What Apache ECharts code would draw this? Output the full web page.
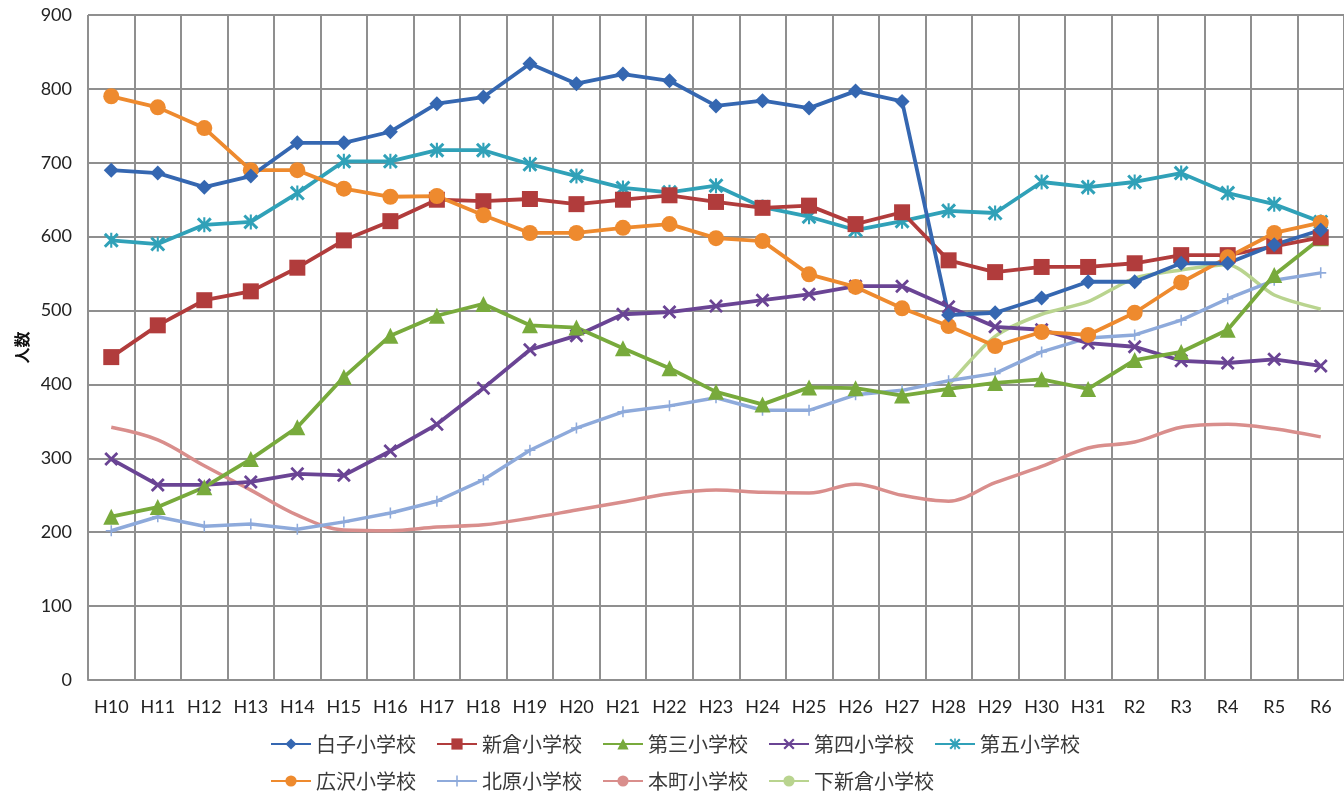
<!DOCTYPE html>
<html><head><meta charset="utf-8">
<script src="https://cdn.jsdelivr.net/npm/echarts@6/dist/echarts.min.js"></script>
<style>html,body{margin:0;padding:0;background:#fff}#c{width:1344px;height:792px}</style>
</head><body><div id="c"></div>
<script>
const categories = ['H10','H11','H12','H13','H14','H15','H16','H17','H18','H19','H20','H21','H22','H23','H24','H25','H26','H27','H28','H29','H30','H31','R2','R3','R4','R5','R6'];
const yTicks = [0,100,200,300,400,500,600,700,800,900];
const shiroko   = [690,686,667,682,727,727,742,780,789,834,807,820,811,777,784,774,797,783,494,497,517,539,539,564,564,589,609];
const niikura   = [437,480,514,526,558,595,621,650,648,651,644,650,656,647,639,642,617,633,568,552,559,559,564,575,575,587,599];
const daisan    = [221,234,261,299,342,410,466,493,509,480,477,449,422,390,373,396,395,385,394,402,407,394,433,444,474,548,598];
const daiyon    = [299,264,264,268,279,277,310,346,395,447,466,495,498,506,514,522,533,533,505,478,474,456,451,432,429,434,425];
const daigo     = [595,590,616,620,659,702,702,717,717,698,682,666,660,669,640,627,609,621,635,632,674,667,674,686,659,644,620];
const hirosawa  = [790,775,747,690,690,665,654,655,629,605,605,612,617,598,594,549,532,503,479,452,471,467,497,538,572,605,619];
const kitahara  = [202,221,208,211,204,214,226,242,271,311,341,363,371,382,365,365,386,392,405,415,444,463,467,487,516,541,551];
const honcho    = [342,325,290,257,223,203,202,207,210,219,230,241,252,257,254,253,265,250,242,267,289,314,322,342,346,340,329];
const shimoniikura = [null,null,null,null,null,null,null,null,null,null,null,null,null,null,null,null,null,null,399,465,495,512,544,555,562,521,502];
const names = ['白子小学校','新倉小学校','第三小学校','第四小学校','第五小学校','広沢小学校','北原小学校','本町小学校','下新倉小学校'];

const X_PATH = 'path://M0,1.4 L1.4,0 L5,3.6 L8.6,0 L10,1.4 L6.4,5 L10,8.6 L8.6,10 L5,6.4 L1.4,10 L0,8.6 L3.6,5 Z';
const STAR_PATH = 'path://M0,1.4 L1.4,0 L5,3.6 L8.6,0 L10,1.4 L6.4,5 L10,8.6 L8.6,10 L5,6.4 L1.4,10 L0,8.6 L3.6,5 Z M4.3,0 L5.7,0 L5.7,10 L4.3,10 Z';
const PLUS_PATH = 'path://M4.3,0 L5.7,0 L5.7,4.3 L10,4.3 L10,5.7 L5.7,5.7 L5.7,10 L4.3,10 L4.3,5.7 L0,5.7 L0,4.3 L4.3,4.3 Z';

const FONT = '"Noto Sans CJK JP", "Noto Sans", sans-serif';
const NUMFONT = 'Lato, "Noto Sans", sans-serif';
function mk(name, data, color, symbol, size, width, smooth) {
  return {
    name, type: 'line', data, symbol, symbolSize: size, smooth: smooth || false,
    showSymbol: symbol !== 'none', connectNulls: false,
    itemStyle: { color }, lineStyle: { color, width },
    emphasis: { disabled: true }, z: 3
  };
}
const series = [
  mk(names[7], honcho, '#d98e8c', 'none', 0, 3.5, 0.35),
  mk(names[8], shimoniikura, '#b9d48f', 'none', 0, 3.5, 0.25),
  mk(names[6], kitahara, '#8eaadb', PLUS_PATH, 11, 3.5),
  mk(names[3], daiyon, '#6a4494', X_PATH, 14, 3.8),
  mk(names[2], daisan, '#78aa3c', 'triangle', 16, 3.8),
  mk(names[4], daigo, '#30a1b8', STAR_PATH, 15, 3.8),
  mk(names[1], niikura, '#b13c3c', 'rect', 16, 3.8),
  mk(names[5], hirosawa, '#ee8a2e', 'circle', 16, 3.8),
  mk(names[0], shiroko, '#3567b1', 'diamond', 15, 3.8)
];
const legendBase = {
  orient: 'horizontal', itemWidth: 40, itemHeight: 14, itemGap: 20,
  textStyle: { fontFamily: FONT, fontSize: 20, color: '#3a3a3a', width: 100, lineHeight: 20 },
  selectedMode: false
};
const chart = echarts.init(document.getElementById('c'), null, { renderer: 'canvas' });
chart.setOption({
  animation: false,
  backgroundColor: '#fff',
  grid: { left: 88, top: 15, width: 1269, height: 665, containLabel: false },
  legend: [
    Object.assign({}, legendBase, { left: 265, top: 729, data: names.slice(0, 5) }),
    Object.assign({}, legendBase, { left: 265, top: 766, data: names.slice(5) })
  ],
  xAxis: {
    type: 'category', data: categories, boundaryGap: true,
    axisLine: { show: true, lineStyle: { color: '#8f8f8f', width: 2 } },
    axisTick: { show: false },
    axisLabel: { fontFamily: NUMFONT, fontSize: 18, color: '#222', margin: 18, interval: 0 },
    splitLine: { show: true, interval: 0, lineStyle: { color: '#8f8f8f', width: 2 } }
  },
  yAxis: {
    type: 'value', min: 0, max: 900, interval: 100,
    name: '人数', nameLocation: 'middle', nameGap: 54, nameRotate: 90,
    nameTextStyle: { fontFamily: FONT, fontSize: 16, fontWeight: 'bold', color: '#111' },
    axisLine: { show: false }, axisTick: { show: false },
    axisLabel: { fontFamily: NUMFONT, fontSize: 18, color: '#222', margin: 16,
      formatter: v => yTicks.includes(v) ? String(v) : '' },
    splitLine: { show: true, lineStyle: { color: '#8f8f8f', width: 2 } }
  },
  series
});
</script></body></html>
